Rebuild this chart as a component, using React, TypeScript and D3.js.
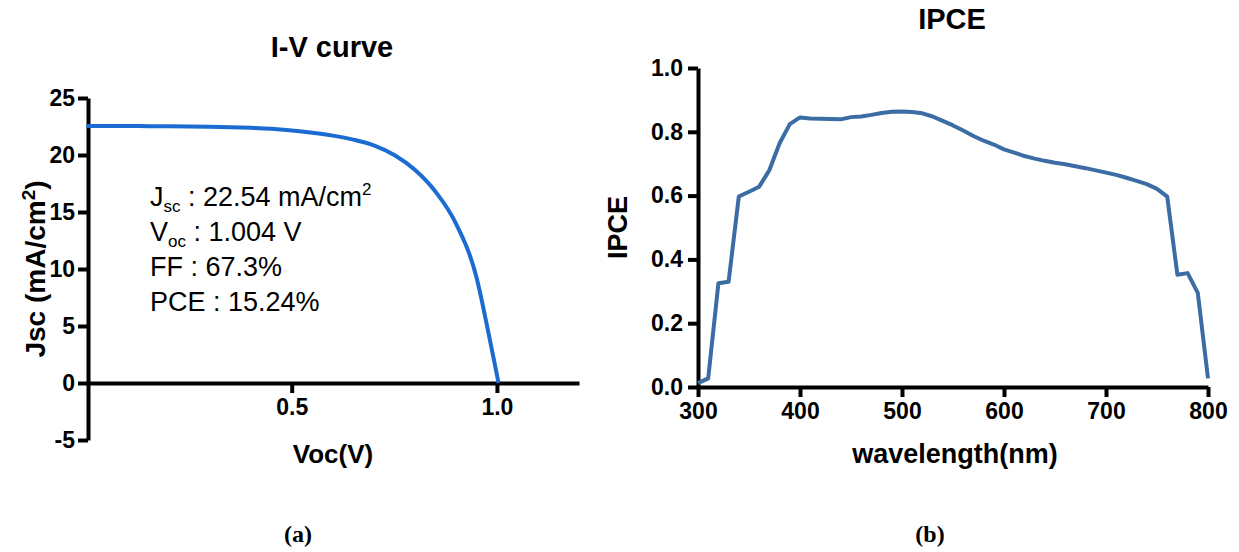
import React, { useRef, useEffect } from "react";
import { select, scaleLinear, axisLeft, axisBottom, line, curveMonotoneX, format } from "d3";

// I-V curve (panel a)
const ivVoltage = [0, 0.05, 0.1, 0.15, 0.2, 0.25, 0.3, 0.35, 0.4, 0.45, 0.5, 0.55, 0.6, 0.65, 0.7, 0.75, 0.8, 0.85, 0.9, 0.95, 0.98, 1.004];
const ivCurrent = [22.54, 22.55, 22.55, 22.53, 22.52, 22.5, 22.48, 22.44, 22.38, 22.3, 22.15, 21.95, 21.7, 21.35, 20.85, 20.0, 18.7, 16.8, 14.0, 9.3, 4.3, 0];
const ivYTicks = [-5, 0, 5, 10, 15, 20, 25];
const ivXTicks = [0.5, 1.0];

// IPCE spectrum (panel b)
const wavelengths = [300, 310, 320, 330, 340, 350, 360, 370, 380, 390, 400, 410, 420, 430, 440, 450, 460, 470, 480, 490, 500, 510, 520, 530, 540, 550, 560, 570, 580, 590, 600, 610, 620, 630, 640, 650, 660, 670, 680, 690, 700, 710, 720, 730, 740, 750, 760, 770, 780, 790, 800];
const ipce = [0.012, 0.027, 0.325, 0.33, 0.597, 0.612, 0.628, 0.68, 0.764, 0.824, 0.845, 0.842, 0.841, 0.84, 0.839, 0.846, 0.848, 0.853, 0.859, 0.863, 0.864, 0.862, 0.858, 0.848, 0.834, 0.82, 0.804, 0.787, 0.772, 0.76, 0.745, 0.735, 0.724, 0.716, 0.709, 0.703, 0.698, 0.692, 0.686, 0.679, 0.672, 0.665, 0.656, 0.646, 0.636, 0.621, 0.597, 0.352, 0.357, 0.295, 0.027];
const ipceXTicks = [300, 400, 500, 600, 700, 800];
const ipceYTicks = [0, 0.2, 0.4, 0.6, 0.8, 1.0];

const SANS = "'Liberation Sans', Arial, Helvetica, sans-serif";

function styleAxis(g) {
  g.select(".domain").attr("stroke", "#000").attr("stroke-width", 4);
  g.selectAll(".tick line").attr("stroke", "#000").attr("stroke-width", 4);
  g.selectAll(".tick text")
    .attr("fill", "#000")
    .style("font-family", SANS)
    .style("font-size", "23px")
    .style("font-weight", "bold");
}

export default function App() {
  const svgRef = useRef(null);

  useEffect(() => {
    const svg = select(svgRef.current);
    svg.selectAll("*").remove();

    // ---- panel a ----
    const xIV = scaleLinear().domain([0, 1.2]).range([86.5, 579]);
    const yIV = scaleLinear().domain([-5, 25]).range([440, 98]);

    const gA = svg.append("g");
    gA.append("g")
      .attr("transform", `translate(0,${yIV(0)})`)
      .call(axisBottom(xIV).tickValues(ivXTicks).tickFormat(format(".1f")).tickSize(10).tickSizeOuter(0).tickPadding(6))
      .call(styleAxis);
    gA.append("g")
      .attr("transform", `translate(${xIV(0) + 1.5},0)`)
      .call(axisLeft(yIV).tickValues(ivYTicks).tickFormat(d => String(d)).tickSize(10).tickSizeOuter(0).tickPadding(3))
      .call(styleAxis);

    const ivLine = line()
      .x((d, i) => xIV(ivVoltage[i]))
      .y(d => yIV(d))
      .curve(curveMonotoneX);
    gA.append("path")
      .datum(ivCurrent)
      .attr("d", ivLine)
      .attr("fill", "none")
      .attr("stroke", "#1a6bd2")
      .attr("stroke-width", 4)
      .attr("stroke-linejoin", "round");

    gA.append("text").attr("x", 332).attr("y", 57).attr("text-anchor", "middle")
      .style("font-family", SANS).style("font-size", "29px").style("font-weight", "bold").text("I-V curve");
    gA.append("text").attr("x", 333).attr("y", 463).attr("text-anchor", "middle")
      .style("font-family", SANS).style("font-size", "26px").style("font-weight", "bold").text("Voc(V)");
    const yl = gA.append("text")
      .attr("transform", `translate(45,${(yIV(-5) + yIV(25)) / 2}) rotate(-90)`)
      .attr("text-anchor", "middle")
      .style("font-family", SANS).style("font-size", "28px").style("font-weight", "bold");
    yl.append("tspan").text("Jsc (mA/cm");
    yl.append("tspan").attr("dy", -10).style("font-size", "19px").text("2");
    yl.append("tspan").attr("dy", 10).text(")");

    // annotation
    const ann = gA.append("g").style("font-family", SANS).style("font-size", "27px");
    const t1 = ann.append("text").attr("x", 150).attr("y", 206);
    t1.append("tspan").text("J");
    t1.append("tspan").attr("dy", 6).style("font-size", "17px").text("sc");
    t1.append("tspan").attr("dy", -6).text(" : 22.54 mA/cm");
    t1.append("tspan").attr("dy", -11).style("font-size", "17px").text("2");
    const t2 = ann.append("text").attr("x", 150).attr("y", 241);
    t2.append("tspan").text("V");
    t2.append("tspan").attr("dy", 6).style("font-size", "17px").text("oc");
    t2.append("tspan").attr("dy", -6).text(" : 1.004 V");
    ann.append("text").attr("x", 150).attr("y", 276).text("FF : 67.3%");
    ann.append("text").attr("x", 150).attr("y", 311).text("PCE : 15.24%");

    // ---- panel b ----
    const xW = scaleLinear().domain([300, 800]).range([698, 1208]);
    const yP = scaleLinear().domain([0, 1]).range([387, 68]);

    const gB = svg.append("g");
    gB.append("g")
      .attr("transform", `translate(0,${yP(0)})`)
      .call(axisBottom(xW).tickValues(ipceXTicks).tickFormat(format("d")).tickSize(10).tickSizeOuter(0).tickPadding(6))
      .call(styleAxis);
    gB.append("g")
      .attr("transform", `translate(${xW(300)},0)`)
      .call(axisLeft(yP).tickValues(ipceYTicks).tickFormat(format(".1f")).tickSize(10).tickSizeOuter(0).tickPadding(5))
      .call(styleAxis);

    const ipceLine = line()
      .x((d, i) => xW(wavelengths[i]))
      .y(d => yP(d));
    gB.append("path")
      .datum(ipce)
      .attr("d", ipceLine)
      .attr("fill", "none")
      .attr("stroke", "#3b6ca4")
      .attr("stroke-width", 4)
      .attr("stroke-linejoin", "round");

    gB.append("text").attr("x", 952).attr("y", 29).attr("text-anchor", "middle")
      .style("font-family", SANS).style("font-size", "29px").style("font-weight", "bold").text("IPCE");
    gB.append("text").attr("x", 955).attr("y", 463).attr("text-anchor", "middle")
      .style("font-family", SANS).style("font-size", "27px").style("font-weight", "bold").text("wavelength(nm)");
    gB.append("text")
      .attr("transform", `translate(627,${(yP(0) + yP(1)) / 2}) rotate(-90)`)
      .attr("text-anchor", "middle")
      .style("font-family", SANS).style("font-size", "27px").style("font-weight", "bold").text("IPCE");

    // captions
    svg.append("text").attr("x", 298).attr("y", 542).attr("text-anchor", "middle")
      .style("font-family", "'Liberation Serif', 'Times New Roman', serif").style("font-size", "24px").style("font-weight", "bold").text("(a)");
    svg.append("text").attr("x", 930).attr("y", 542).attr("text-anchor", "middle")
      .style("font-family", "'Liberation Serif', 'Times New Roman', serif").style("font-size", "24px").style("font-weight", "bold").text("(b)");
  }, []);

  return (
    <svg ref={svgRef} width={1239} height={552}
      style={{ position: "absolute", left: 0, top: 0, background: "#fff" }} />
  );
}
